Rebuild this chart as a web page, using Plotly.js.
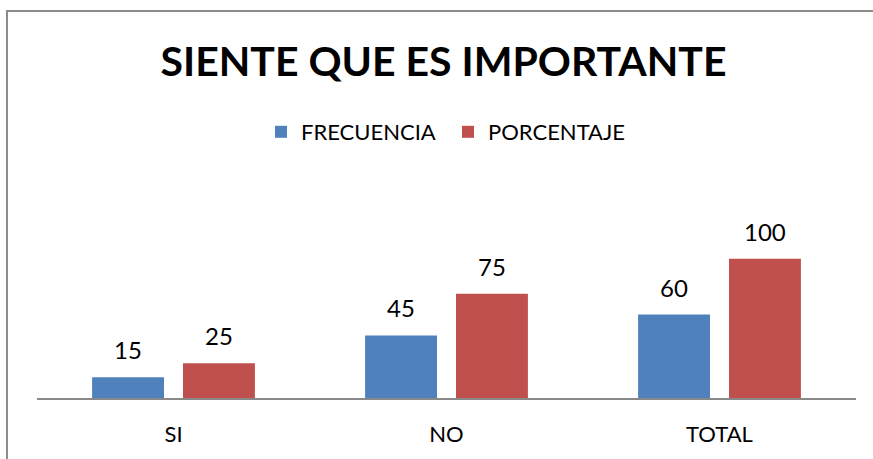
<!DOCTYPE html>
<html>
<head>
<meta charset="utf-8">
<script src="https://cdn.plot.ly/plotly-3.0.1.min.js"></script>
<style>
  html, body { margin: 0; padding: 0; background: #ffffff; overflow: hidden; }
  #wrap { position: relative; width: 873px; height: 459px; overflow: hidden; }
  #chart { position: absolute; left: 0; top: 0; width: 873px; height: 459px; }
  #frame { position: absolute; left: 6px; top: 10px; width: 900px; height: 500px;
           border-left: 2px solid #8c8c8c; border-top: 2px solid #8c8c8c;
           pointer-events: none; box-sizing: border-box; }
</style>
</head>
<body>
<div id="wrap">
  <div id="chart"></div>
  <div id="frame"></div>
</div>
<script>
const categories = ["SI", "NO", "TOTAL"];
const frecuencia = [15, 45, 60];
const porcentaje = [25, 75, 100];
const seriesNames = ["FRECUENCIA", "PORCENTAJE"];
const chartTitle = "SIENTE QUE ES IMPORTANTE";

const W = 873, H = 459;
const M = { l: 37, r: 17, t: 230.5, b: 60.5 };
const plotW = W - M.l - M.r, plotH = H - M.t - M.b;
const FONT = "Lato, 'Open Sans', sans-serif";

const blue = "#4F81BD", red = "#C0504D";

const traces = [
  { type: "bar", name: seriesNames[0], x: categories, y: frecuencia,
    marker: { color: blue, line: { width: 0 } }, hoverinfo: "none" },
  { type: "bar", name: seriesNames[1], x: categories, y: porcentaje,
    marker: { color: red, line: { width: 0 } }, hoverinfo: "none" }
];

// bar offset in px inside a group
const bargap = 0.334, bargroupgap = 0.209;
const catW = plotW / categories.length;
const slot = catW * (1 - bargap) / 2;

const annotations = [];
[frecuencia, porcentaje].forEach((vals, si) => {
  vals.forEach((v, i) => {
    annotations.push({
      x: categories[i], y: v, xref: "x", yref: "y",
      text: String(v), showarrow: false,
      xshift: (si === 0 ? -1 : 1) * slot / 2,
      yanchor: "bottom", yshift: 11,
      font: { family: FONT, size: 24, color: "#000" }
    });
  });
});

const px2x = p => (p - M.l) / plotW;

const layout = {
  width: W, height: H,
  margin: M,
  paper_bgcolor: "#ffffff", plot_bgcolor: "#ffffff",
  font: { family: FONT, color: "#000" },
  title: {
    text: "<b>" + chartTitle + "</b>",
    font: { family: FONT, size: 41, color: "#000" },
    xref: "paper", x: px2x(443.5), xanchor: "center",
    yref: "container", y: 1 - 62 / H, yanchor: "middle"
  },
  showlegend: true,
  legend: {
    orientation: "h",
    xref: "paper", x: px2x(261), xanchor: "left",
    yref: "container", y: 1 - 132 / H, yanchor: "middle",
    font: { family: FONT, size: 22, color: "#000" },
    entrywidth: 142, entrywidthmode: "pixels",
    bgcolor: "rgba(0,0,0,0)"
  },
  bargap: bargap, bargroupgap: bargroupgap, barmode: "group",
  xaxis: {
    type: "category",
    showline: true, linecolor: "#898989", linewidth: 2,
    ticks: "", showgrid: false, zeroline: false,
    tickfont: { family: FONT, size: 22, color: "#000" },
    ticklabelstandoff: 16,
    fixedrange: true
  },
  yaxis: {
    range: [0, 120], visible: false, showgrid: false, zeroline: false, fixedrange: true
  },
  annotations: annotations
};

Plotly.newPlot("chart", traces, layout, { displayModeBar: false, staticPlot: true });
</script>
</body>
</html>
